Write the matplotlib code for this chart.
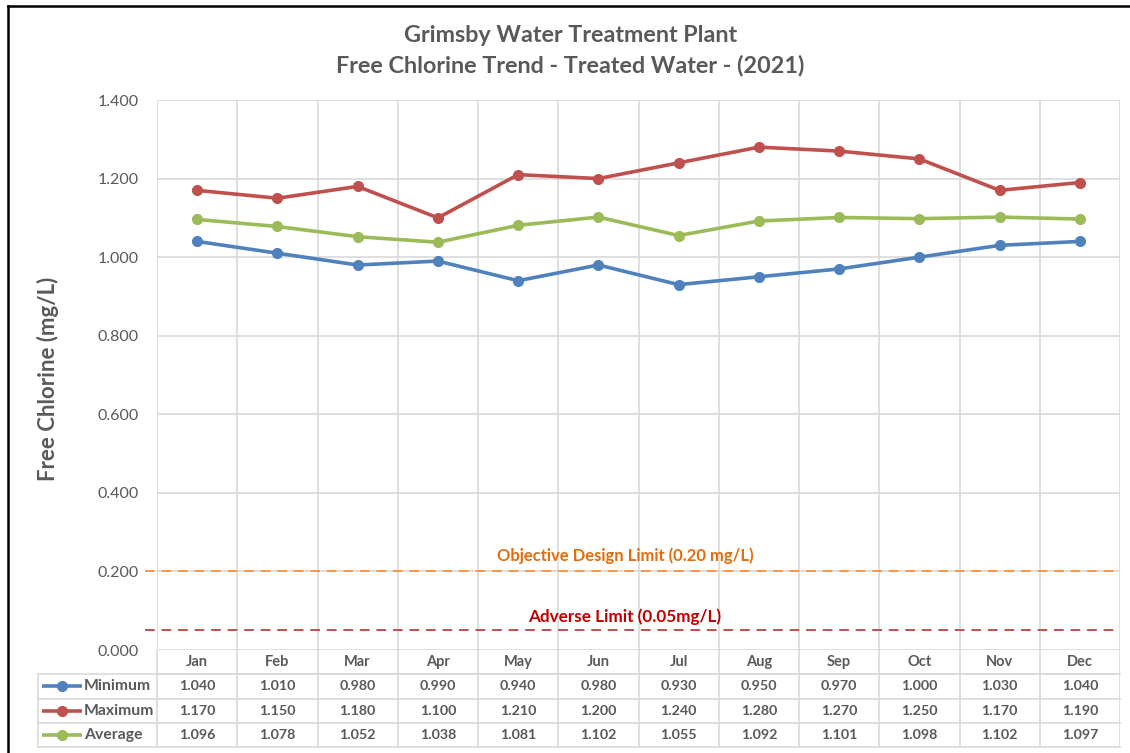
import matplotlib
matplotlib.use("Agg")
import matplotlib.pyplot as plt
from matplotlib.lines import Line2D

months = ["Jan", "Feb", "Mar", "Apr", "May", "Jun", "Jul", "Aug", "Sep", "Oct", "Nov", "Dec"]
minimum = [1.040, 1.010, 0.980, 0.990, 0.940, 0.980, 0.930, 0.950, 0.970, 1.000, 1.030, 1.040]
maximum = [1.170, 1.150, 1.180, 1.100, 1.210, 1.200, 1.240, 1.280, 1.270, 1.250, 1.170, 1.190]
average = [1.096, 1.078, 1.052, 1.038, 1.081, 1.102, 1.055, 1.092, 1.101, 1.098, 1.102, 1.097]
series_names = ["Minimum", "Maximum", "Average"]
series_values = [minimum, maximum, average]
series_colors = ["#4F81BD", "#C0504D", "#9BBB59"]
objective_limit = 0.20
adverse_limit = 0.05
yticks = [0.0, 0.2, 0.4, 0.6, 0.8, 1.0, 1.2, 1.4]

plt.rcParams['font.family'] = ['Lato', 'DejaVu Sans']
TXT = "#595959"
GRID = "#D9D9D9"

W, H = 1130, 753
fig = plt.figure(figsize=(W / 100, H / 100), dpi=100)

def fx(px):
    return px / W

def fy(py):
    return 1 - py / H

left_px, right_px, top_px, bot_px = 157, 1120, 100, 650
ax = fig.add_axes([fx(left_px), fy(bot_px), fx(right_px - left_px), (bot_px - top_px) / H])
n = len(months)
x = list(range(n))
ax.set_xlim(-0.5, n - 0.5)
ax.set_ylim(0, 1.4)
ax.set_yticks(yticks)
ax.set_yticklabels([f"{v:.3f}" for v in yticks], color=TXT, fontsize=11.5)
ax.tick_params(axis='y', length=0, pad=13)
ax.set_xticks([])
for sp in ax.spines.values():
    sp.set_visible(False)
for v in yticks:
    ax.axhline(v, color=GRID, lw=1.2, zorder=0)
for b in range(n + 1):
    ax.axvline(b - 0.5, color=GRID, lw=1.2, zorder=0)

for vals, col in zip(series_values, series_colors):
    ax.plot(x, vals, color=col, lw=2.6, marker='o', ms=7, zorder=3)

ax.axhline(objective_limit, xmin=-0.012, xmax=1, color="#F79646", lw=1.4,
           ls=(0, (5, 3.5)), clip_on=False, zorder=2)
ax.axhline(adverse_limit, xmin=-0.012, xmax=1, color="#C0504D", lw=1.4,
           ls=(0, (5, 3.5)), clip_on=False, zorder=2)
ax.text(5.33, objective_limit + 0.040, "Objective Design Limit (0.20 mg/L)", color="#E46C0A",
        fontsize=12, fontweight='bold', ha='center', va='center')
ax.text(5.33, adverse_limit + 0.035, "Adverse Limit (0.05mg/L)", color="#C00000",
        fontsize=12.3, fontweight='bold', ha='center', va='center')

fig.text(fx(48), fy(379), "Free Chlorine (mg/L)", rotation=90, ha='center', va='center',
         color=TXT, fontsize=16, fontweight='bold')

fig.text(0.505, fy(36), "Grimsby Water Treatment Plant", ha='center', va='center',
         color=TXT, fontsize=16.8, fontweight='bold')
fig.text(0.505, fy(65), "Free Chlorine Trend - Treated Water - (2021)", ha='center', va='center',
         color=TXT, fontsize=16.8, fontweight='bold')

# data table
tab_left_px, tab_top_px, tab_bot_px = 38, 650, 747
unit = (right_px - left_px) / n
x_left = -0.5 - (left_px - tab_left_px) / unit
tax = fig.add_axes([fx(tab_left_px), fy(tab_bot_px), fx(right_px - tab_left_px),
                    (tab_bot_px - tab_top_px) / H])
tax.set_xlim(x_left, n - 0.5)
tax.set_ylim(4, 0)
tax.axis('off')
for b in range(n + 1):
    tax.plot([b - 0.5, b - 0.5], [0, 4], color=GRID, lw=1.2)
tax.plot([x_left, x_left], [1, 4], color=GRID, lw=1.2, clip_on=False)
tax.plot([-0.5, n - 0.5], [1, 1], color=GRID, lw=1.2)
for r in [1, 2, 3, 4]:
    tax.plot([x_left, n - 0.5], [r, r], color=GRID, lw=1.2, clip_on=False)
for i, m in enumerate(months):
    tax.text(i, 0.5, m, ha='center', va='center', color=TXT, fontsize=10.5, fontweight='bold')
for r, (name, vals, col) in enumerate(zip(series_names, series_values, series_colors), start=1):
    kx0 = x_left + 4 / unit
    kx1 = x_left + 44 / unit
    tax.plot([kx0, kx1], [r + 0.5, r + 0.5], color=col, lw=2.6, solid_capstyle='butt')
    tax.plot([(kx0 + kx1) / 2], [r + 0.5], marker='o', ms=7, color=col)
    tax.text(kx1 + 2 / unit, r + 0.5, name, ha='left', va='center', color=TXT,
             fontsize=11.3, fontweight='bold')
    for i, v in enumerate(vals):
        tax.text(i, r + 0.5, f"{v:.3f}", ha='center', va='center', color=TXT,
                 fontsize=10.3, fontweight='bold')

# outer frame (top and left)
fig.add_artist(Line2D([fx(7.5), 1.0], [fy(5.5), fy(5.5)], color='black', lw=1.8))
fig.add_artist(Line2D([fx(7.5), fx(7.5)], [fy(5.5), 0.0], color='black', lw=1.8))

fig.savefig("out.png", dpi=100)
